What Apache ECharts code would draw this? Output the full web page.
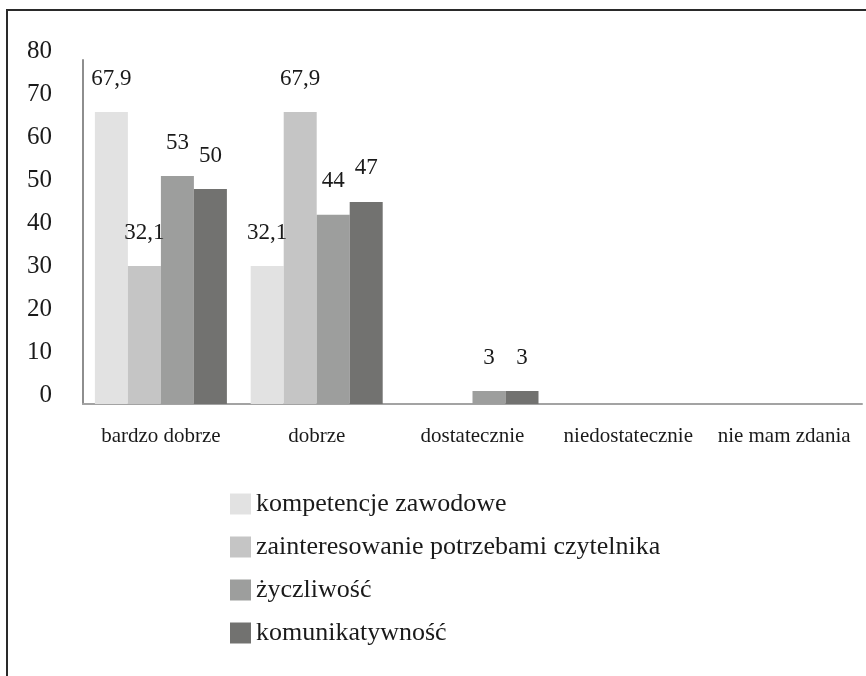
<!DOCTYPE html>
<html>
<head>
<meta charset="utf-8">
<script src="https://cdn.jsdelivr.net/npm/echarts@6/dist/echarts.min.js"></script>
<style>
html,body{margin:0;padding:0;background:#fff;}
#chart{width:866px;height:676px;}
</style>
</head>
<body>
<div id="chart"></div>
<script>
const categories = ['bardzo dobrze', 'dobrze', 'dostatecznie', 'niedostatecznie', 'nie mam zdania'];
const seriesNames = ['kompetencje zawodowe', 'zainteresowanie potrzebami czytelnika', 'życzliwość', 'komunikatywność'];
const kompetencje = [67.9, 32.1, 0, 0, 0];
const zainteresowanie = [32.1, 67.9, 0, 0, 0];
const zyczliwosc = [53, 44, 3, 0, 0];
const komunikatywnosc = [50, 47, 3, 0, 0];
const yTicks = [0, 10, 20, 30, 40, 50, 60, 70, 80];
const seriesValues = [kompetencje, zainteresowanie, zyczliwosc, komunikatywnosc];
const colors = ['#e2e2e2', '#c5c5c5', '#9d9e9d', '#727270'];

const FONT = '"Liberation Serif", "DejaVu Serif", serif';
const chart = echarts.init(document.getElementById('chart'));

chart.setOption({
  animation: false,
  backgroundColor: '#fff',
  textStyle: { fontFamily: FONT },
  graphic: [{
    type: 'rect',
    shape: { x: 7, y: 10, width: 900, height: 720 },
    style: { fill: 'none', stroke: '#2a2a2a', lineWidth: 2 },
    silent: true
  }],
  grid: { left: 83, right: 4, top: 60, bottom: 272, containLabel: false },
  legend: {
    orient: 'vertical',
    left: 225,
    top: 486,
    itemWidth: 21,
    itemHeight: 21,
    itemGap: 17,
    icon: 'rect',
    data: seriesNames,
    textStyle: { fontFamily: FONT, fontSize: 26, color: '#1a1a1a' }
  },
  xAxis: {
    type: 'category',
    data: categories,
    axisLine: { show: true, lineStyle: { color: '#a3a3a3', width: 2 } },
    axisTick: { show: false },
    axisLabel: { fontFamily: FONT, fontSize: 21, color: '#1a1a1a', margin: 22, lineHeight: 21, interval: 0 }
  },
  yAxis: {
    type: 'value',
    min: 0,
    max: 80,
    interval: 10,
    axisLine: { show: true, lineStyle: { color: '#8e8e8e', width: 2 } },
    axisTick: { show: false },
    splitLine: { show: false },
    axisLabel: {
      fontFamily: FONT, fontSize: 25, color: '#1a1a1a', margin: 31,
      verticalAlign: 'bottom', lineHeight: 17,
      formatter: function (v) { return yTicks.indexOf(v) >= 0 ? String(v) : ''; }
    }
  },
  series: seriesNames.map(function (name, i) {
    return {
      name: name,
      type: 'bar',
      data: seriesValues[i],
      barWidth: 33,
      barGap: '0%',
      itemStyle: { color: colors[i] },
      label: {
        show: true,
        position: 'top',
        distance: 22,
        fontFamily: FONT,
        fontSize: 23,
        color: '#1a1a1a',
        formatter: function (p) { return p.value === 0 ? '' : String(p.value).replace('.', ','); }
      }
    };
  })
});
</script>
</body>
</html>
